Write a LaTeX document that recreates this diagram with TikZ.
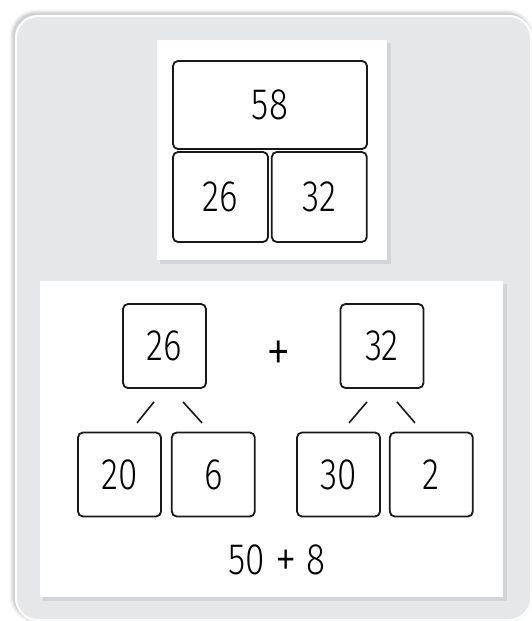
\documentclass[tikz,border=0pt]{standalone}
\usepackage{fontspec}
\setmainfont{Fira Sans Light}[FakeStretch=0.8]
\usepackage{xcolor}
\usetikzlibrary{positioning,calc}
\definecolor{panelgray}{HTML}{E6E7E8}

\begin{document}
\begin{tikzpicture}[x=1pt, y=-1pt,
  font=\fontsize{44}{48}\selectfont,
  numbox/.style={rectangle, rounded corners=5pt, draw=black!90, line width=1.8pt, fill=white,
                 align=center, inner sep=0pt, minimum width=83pt, minimum height=84pt},
  barbox/.style={numbox, minimum width=95pt, minimum height=90pt},
  sheet/.style={fill=white},
  sheetshade/.style={fill=black!30, opacity=0.35},
  branch/.style={line width=1.6pt, black!90}]
  \useasboundingbox (0,0) rectangle (532,621);
  \foreach \w/\o in {9/0.04, 6/0.06, 3/0.09}
    \draw[black, opacity=\o, line width=\w pt, rounded corners=22pt] (14,14) rectangle (529,618);
  \draw[white, line width=2pt, fill=panelgray, rounded corners=22pt] (16,16) rectangle (531,620);
  \fill[sheetshade] (160,43) rectangle (391,264);
  \fill[sheet] (157,40) rectangle (387,260);
  \fill[sheetshade] (43,284) rectangle (507,601);
  \fill[sheet] (40,281) rectangle (503,597);
  \node[barbox, minimum width=194pt, minimum height=88pt] (whole) at (270,105) {58};
  \node[barbox] (parta) at (220.5,197) {26};
  \node[barbox, right=2pt of parta] (partb) {32};
  \node[numbox] (left) at (164.5,346) {26};
  \node[font=\fontsize{62}{64}\selectfont] (plus) at (279,357) {+};
  \node[numbox] (right) at (382,346) {32};
  \node[numbox] (tens1) at (119.5,474.5) {20};
  \node[numbox, right=9pt of tens1] (ones1) {6};
  \node[numbox] (tens2) at (338.5,474.5) {30};
  \node[numbox, right=8pt of tens2] (ones2) {2};
  \node (sum) at (277,561) {50 \raisebox{-3pt}{\fontsize{54}{56}\selectfont+} 8};
  \draw[branch] ($(left.south)+(-10.5,13)$) -- ($(left.south)+(-27.5,34)$);
  \draw[branch] ($(left.south)+(18.5,13)$) -- ($(left.south)+(37.5,34)$);
  \draw[branch] ($(right.south)+(-15,13)$) -- ($(right.south)+(-33,34)$);
  \draw[branch] ($(right.south)+(15,13)$) -- ($(right.south)+(33,34)$);
\end{tikzpicture}
\end{document}
